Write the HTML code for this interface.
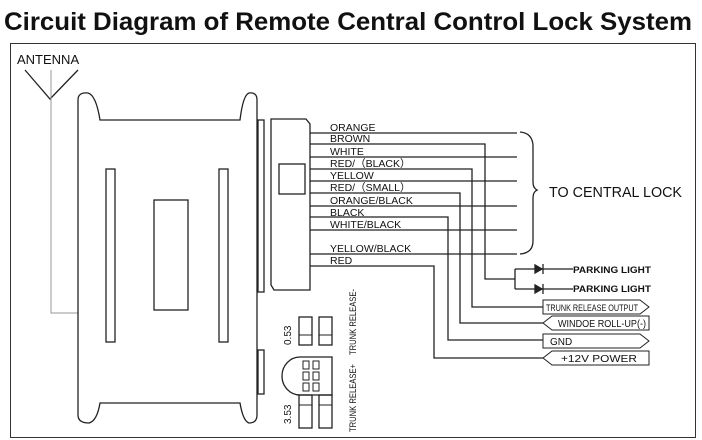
<!DOCTYPE html>
<html><head><meta charset="utf-8"><style>
body{margin:0;background:#fff;}
svg{display:block;font-family:"Liberation Sans",Arial,sans-serif;}
</style></head><body>
<svg width="702" height="440" viewBox="0 0 702 440" xmlns="http://www.w3.org/2000/svg">
<rect width="702" height="440" fill="#fff"/>
<text x="4" y="30" font-size="25" font-weight="bold" textLength="688" lengthAdjust="spacingAndGlyphs" fill="#111">Circuit Diagram of Remote Central Control Lock System</text>
<rect x="10.5" y="43.5" width="685" height="394" fill="none" stroke="#333" stroke-width="1"/>
<g fill="none" stroke="#222" stroke-width="1.3">
<path d="M25 70 L50 99 L78 70"/>
<path d="M51 70 V313 H78" stroke="#999" stroke-width="1"/>
<path d="M100 120 H240 Q243 95 249 93 Q257 92 257 100 V415 Q257 423 249 423 Q243 421 240 403 H100 Q97 421 89 423 Q78 423 78 415 V100 Q78 92 88 93 Q96 95 100 120 Z"/>
<rect x="106" y="169" width="9" height="173"/>
<rect x="219" y="169" width="9" height="173"/>
<rect x="154" y="200" width="34" height="110"/>
<rect x="258" y="120" width="6" height="172"/>
<rect x="258" y="350" width="6" height="44"/>
<path d="M271 119 H306 L310 124 V290 H274 L271 285 Z"/>
<rect x="279" y="164" width="26" height="30"/>
<path d="M310 133 H517 M310 157 H517 M310 181 H517 M310 206 H517 M310 230 H517 M310 254 H517"/>
<path d="M520 132 Q532 133 533 145 V182 Q533 188 537 190 Q533 192 533 198 V241 Q533 253 520 254"/>
<path d="M310 144 H485 V279 H515"/>
<path d="M515 269 V289 M515 269 H573 M515 289 H573"/>
<path d="M310 169 H472 V307 H543"/>
<path d="M310 193 H460 V323 H543"/>
<path d="M310 217 H448 V340 H543"/>
<path d="M310 266 H434 V358 H543"/>
<path d="M543 300 H640 L649 307 L640 314 H543 Z" stroke-width="1"/>
<path d="M543 323 L552 316 H649 V330 H552 Z" stroke-width="1"/>
<path d="M543 334 H640 L649 341 L640 348 H543 Z" stroke-width="1"/>
<path d="M543 358 L552 351 H649 V365 H552 Z" stroke-width="1"/>
<rect x="299" y="317" width="13" height="28"/>
<rect x="319" y="317" width="13" height="28"/>
<path d="M299 335 H312 M319 335 H332" stroke-width="1"/>
<path d="M332 357 H300 A18 19 0 0 0 300 395 H332 Z"/>
<rect x="303" y="361" width="6" height="8" stroke-width="1"/><rect x="313" y="361" width="6" height="8" stroke-width="1"/>
<rect x="303" y="372" width="6" height="8" stroke-width="1"/><rect x="313" y="372" width="6" height="8" stroke-width="1"/>
<rect x="303" y="383" width="6" height="8" stroke-width="1"/><rect x="313" y="383" width="6" height="8" stroke-width="1"/>
<rect x="299" y="395" width="13" height="33"/>
<rect x="319" y="395" width="13" height="33"/>
<path d="M299 405 H312 M319 405 H332" stroke-width="1"/>
</g>
<g fill="#222" stroke="#222" stroke-width="1.3">
<path d="M535 265 L542 269 L535 273 Z"/><path d="M543 264 V274"/>
<path d="M535 285 L542 289 L535 293 Z"/><path d="M543 284 V294"/>
</g>
<g fill="#111" font-size="10.5">
<text x="17" y="64" font-size="13">ANTENNA</text>
<text x="330" y="131">ORANGE</text>
<text x="330" y="142">BROWN</text>
<text x="330" y="155">WHITE</text>
<text x="330" y="167">RED/（BLACK）</text>
<text x="330" y="179">YELLOW</text>
<text x="330" y="191">RED/（SMALL）</text>
<text x="330" y="204">ORANGE/BLACK</text>
<text x="330" y="216">BLACK</text>
<text x="330" y="228">WHITE/BLACK</text>
<text x="330" y="252">YELLOW/BLACK</text>
<text x="330" y="264">RED</text>
<text x="549" y="197" font-size="15" textLength="133" lengthAdjust="spacingAndGlyphs">TO CENTRAL LOCK</text>
<text x="573" y="273" font-weight="bold" font-size="9.5" textLength="78" lengthAdjust="spacingAndGlyphs">PARKING LIGHT</text>
<text x="573" y="292" font-weight="bold" font-size="9.5" textLength="78" lengthAdjust="spacingAndGlyphs">PARKING LIGHT</text>
<text x="546" y="311" font-size="9" textLength="92" lengthAdjust="spacingAndGlyphs">TRUNK RELEASE OUTPUT</text>
<text x="558" y="327" font-size="10" textLength="88" lengthAdjust="spacingAndGlyphs">WINDOE ROLL-UP(-)</text>
<text x="550" y="345" font-size="10">GND</text>
<text x="561" y="362" font-size="10" textLength="76" lengthAdjust="spacingAndGlyphs">+12V POWER</text>
<text transform="translate(291,345) rotate(-90)" font-size="10">0.53</text>
<text transform="translate(291,424) rotate(-90)" font-size="10">3.53</text>
<text transform="translate(356,355) rotate(-90)" font-size="9" textLength="66" lengthAdjust="spacingAndGlyphs">TRUNK RELEASE-</text>
<text transform="translate(356,432) rotate(-90)" font-size="9" textLength="68" lengthAdjust="spacingAndGlyphs">TRUNK RELEASE+</text>
</g>
</svg>
</body></html>
